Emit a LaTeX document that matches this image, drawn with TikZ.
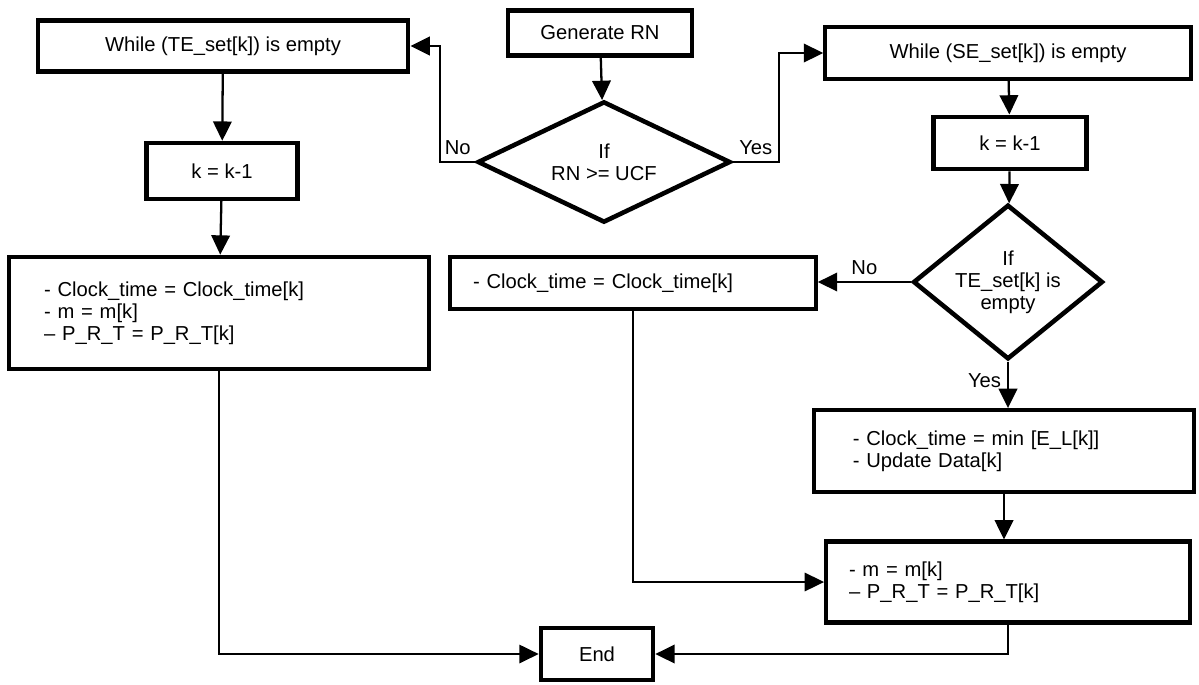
\documentclass[tikz,border=0pt]{standalone}
\usepackage{fontspec}
\setmainfont{Liberation Sans}
\usetikzlibrary{shapes.geometric,arrows.meta}

\begin{document}
\begin{tikzpicture}[x=0.02cm,y=-0.02cm,
        font=\fontsize{11.5}{12.5}\selectfont,
        box/.style={rectangle,draw,line width=2.4pt,align=center,inner sep=2pt},
        listbox/.style={box,align=left},
        decision/.style={diamond,draw,line width=2.6pt,align=center,inner sep=0pt},
        arrow/.style={-{Triangle[length=11pt,width=10.5pt]},line width=1.3pt},
        thinarrow/.style={arrow,line width=0.9pt}]
        \useasboundingbox (0,0) rectangle (1199,684);
        \node[box,minimum width=211pt,minimum height=29pt] (tewhile) at (223,46) {While (TE\_set[k]) is empty};
        \node[box,minimum width=86pt,minimum height=32pt] (tek) at (222,171) {k = k-1};
        \node[listbox,text width=199pt,inner xsep=20pt,minimum height=64pt] (teclock) at (219,313) {- Clock\_time = Clock\_time[k]\\- m = m[k]\\-- P\_R\_T = P\_R\_T[k]};
        \node[box,minimum width=105pt,minimum height=25.5pt] (gen) at (600,33) {Generate RN};
        \node[decision,aspect=2,minimum width=144pt,minimum height=69pt] (ucf) at (604,162) {If\\RN >= UCF};
        \node[box,minimum width=208pt,minimum height=29.5pt] (sewhile) at (1008,53) {While (SE\_set[k]) is empty};
        \node[box,minimum width=87pt,minimum height=30pt] (sek) at (1010,143) {k = k-1};
        \node[decision,aspect=1.23,minimum width=108pt,minimum height=88pt] (teempty) at (1008,282) {If\\TE\_set[k] is\\empty};
        \node[listbox,text width=182pt,inner xsep=13pt,minimum height=30pt] (seclock) at (633,283) {- Clock\_time = Clock\_time[k]};
        \node[listbox,text width=172pt,inner xsep=22pt,minimum height=46.5pt] (update) at (1004,451) {- Clock\_time = min [E\_L[k]]\\- Update Data[k]};
        \node[listbox,text width=181pt,inner xsep=13pt,minimum height=46pt] (mset) at (1008,582) {- m = m[k]\\-- P\_R\_T = P\_R\_T[k]};
        \node[box,minimum width=64pt,minimum height=29.5pt] (stop) at (597,654) {End};
        \draw[arrow] (tewhile) -- (tek);
        \draw[arrow] (tek) -- (teclock);
        \draw[arrow] (gen) -- (ucf);
        \draw[arrow] (ucf.west) -- node[above]{No} ++(-35,0) |- (tewhile.east);
        \draw[arrow] (ucf.east) -- node[above]{Yes} ++(46,0) |- (sewhile.west);
        \draw[arrow] (sewhile) -- (sek);
        \draw[arrow] (sek) -- (teempty);
        \draw[arrow] (teempty.west) -- node[above]{No} (teempty.west -| seclock.east);
        \draw[arrow] (teempty.south) -- node[left,pos=0.4]{Yes} (teempty.south |- update.north);
        \draw[arrow] (update.south) -- (update.south |- mset.north);
        \draw[thinarrow] (seclock.south) |- (mset.west);
        \draw[thinarrow] (teclock.south) |- (stop.west);
        \draw[arrow] (mset.south) |- (stop.east);
    \end{tikzpicture}
\end{document}
